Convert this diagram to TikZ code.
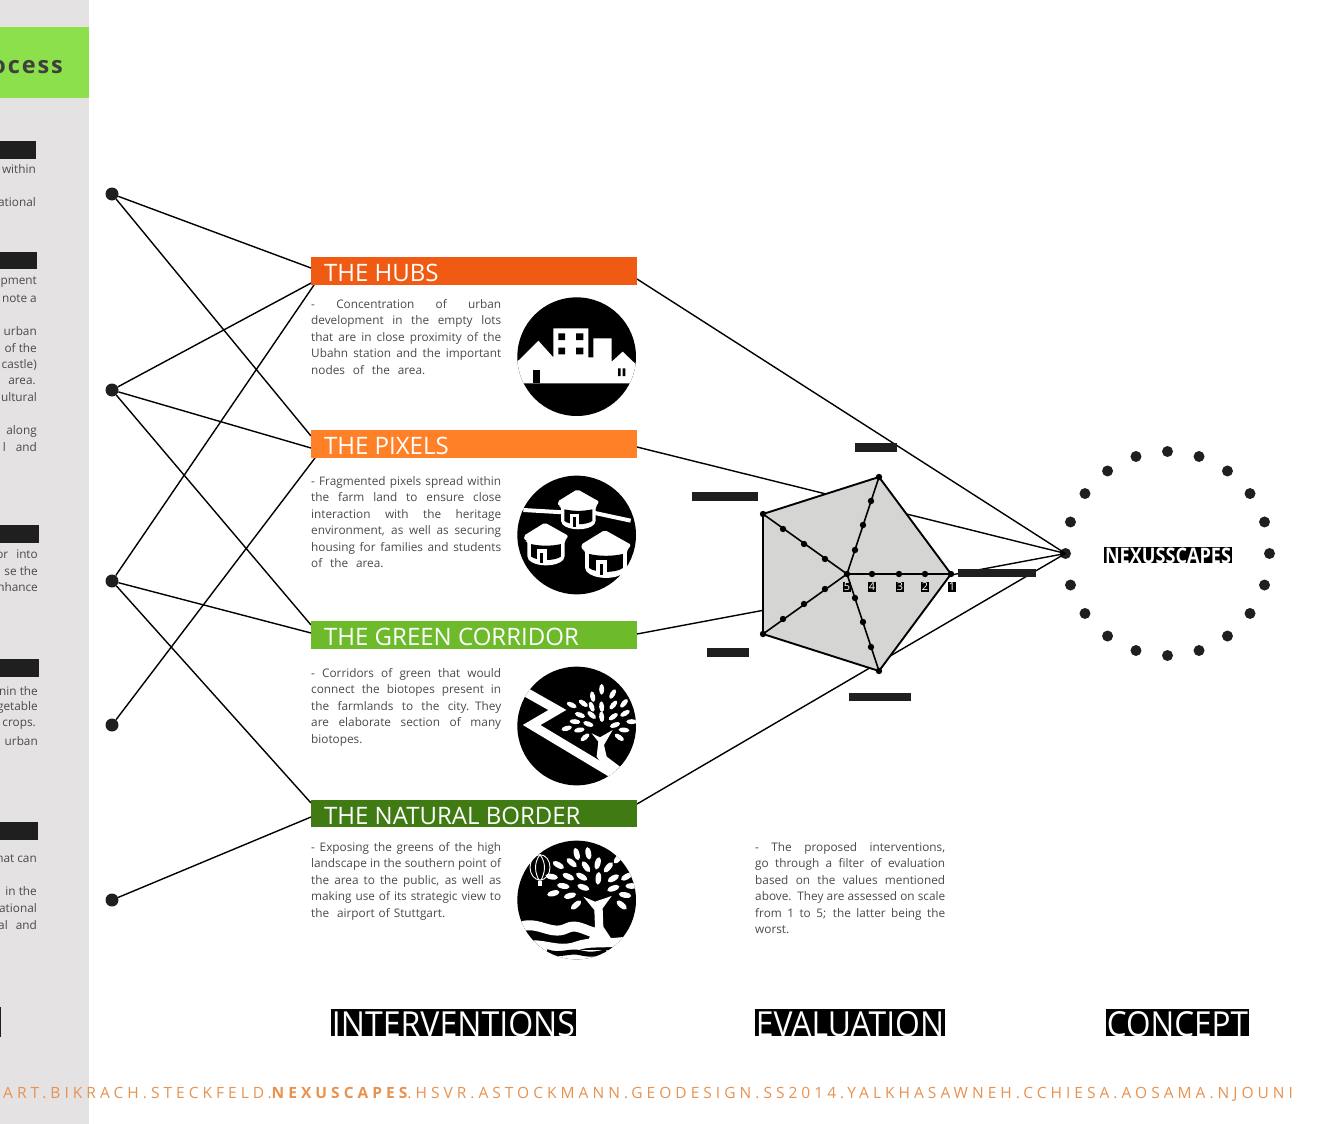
\documentclass[tikz,border=0pt]{standalone}
\usepackage{fontspec}
\usepackage{graphicx}
\setmainfont{Open Sans}
\newfontfamily\footfont[LetterSpace=26]{Open Sans}
\definecolor{sidegray}{HTML}{E4E2E2}
\definecolor{sidegreen}{HTML}{8BE04B}
\definecolor{inkdark}{HTML}{1F1F1F}
\definecolor{bodygray}{HTML}{4A4A4A}
\definecolor{hubsorange}{HTML}{F05A12}
\definecolor{pixorange}{HTML}{FF8026}
\definecolor{corrgreen}{HTML}{6DBA2B}
\definecolor{bordergreen}{HTML}{3F7A12}
\definecolor{footorange}{HTML}{E8924F}
\definecolor{pentfill}{HTML}{D5D5D3}
\newcommand{\jl}[1]{\noindent\makebox[190pt][s]{\spaceskip=0.26em plus 1fil minus 0.1em\relax #1}\par}
\newcommand{\lastl}[1]{\noindent\makebox[190pt][l]{#1}\par}
\newcommand{\leafw}[5]{\fill[white,rotate around={-#3:(#1,#2)}] (#1,#2) ellipse (#4 and #5);}
\newcommand{\hut}[3]{%
 \begin{scope}[shift={(#1,#2)},scale=#3]
  \fill[white,rounded corners=2pt] (-63,37) -- (-3,0) -- (63,37) -- (52,52) -- (52,100) .. controls (30,125) and (-30,125) .. (-52,100) -- (-52,52) -- (-58,52) -- cycle;
  \fill[black] (-42,60) .. controls (-15,66) and (15,66) .. (42,60) -- (42,95) .. controls (25,108) and (-25,108) .. (-42,95) -- cycle;
  \fill[white] (-26,74) -- (2,74) -- (2,112) -- (-26,112) -- cycle;
  \fill[black] (-16,84) -- (-8,84) -- (-8,112) -- (-16,112) -- cycle;
 \end{scope}}
\tikzset{
 dot/.style={circle,fill=inkdark,inner sep=0pt,minimum size=13pt},
 ringdot/.style={circle,fill=inkdark,inner sep=0pt,minimum size=11pt},
 axisdot/.style={circle,fill=black,inner sep=0pt,minimum size=6.4pt},
 link/.style={black,line width=1.4pt},
 titlebar/.style={inner sep=0pt,minimum height=28pt,minimum width=326pt,anchor=west},
 bartitle/.style={anchor=west,inner sep=0pt,text=white,font=\fontsize{24}{24}\selectfont},
 body/.style={anchor=north west,inner sep=0pt,text width=190pt,text=bodygray,font=\fontsize{11.8}{16.5}\selectfont},
 frag/.style={anchor=east,inner sep=0pt,yshift=-0.5pt,text=bodygray,font=\fontsize{11.8}{14}\selectfont},
 redact/.style={fill=inkdark,draw=none},
 numlab/.style={fill=black,text=white,inner sep=0.6pt,font=\fontsize{11}{11}\selectfont},
}
\begin{document}
\begin{tikzpicture}[x=1pt,y=-1pt]
\useasboundingbox (0,0) rectangle (1318,1124);
\fill[white] (0,0) rectangle (1318,1124);
% sidebar
\fill[sidegray] (0,0) rectangle (88.5,1124);
\fill[sidegreen] (0,27) rectangle (88.5,98);
\node[anchor=east,inner sep=0pt,text=bodygray!85!black,font=\fontsize{23.5}{24}\selectfont\bfseries\addfontfeature{LetterSpace=8}] (proc) at (63,67) {ocess};
\foreach \a/\b/\w in {141/159/36,252/269/37,525/543/39,659/677/39,822/840/38}{
  \fill[redact] (0,\a) rectangle (\w,\b);}
\fill[inkdark] (0,1007) rectangle (1.2,1037);
\node[frag] (s1) at (36,169) {within};
\node[frag] (s2) at (36,202) {ational};
\node[frag] (s3) at (37,282) {pment};
\node[frag] (s4) at (37,298) {note a};
\node[frag] (s5) at (37,331) {urban};
\node[frag] (s6) at (37,348) {of the};
\node[frag] (s7) at (37,364) {castle)};
\node[frag] (s8) at (36,381) {area.};
\node[frag] (s9) at (37,397) {ultural};
\node[frag] (s10) at (37,431) {along};
\node[frag] (s11) at (37,447) {l\hspace{10pt}and};
\node[frag] (s12) at (38,554) {or\hspace{8pt}into};
\node[frag] (s13) at (38,571) {se the};
\node[frag] (s14) at (38,587) {nhance};
\node[frag] (s15) at (38,691) {nin the};
\node[frag] (s16) at (38,707) {getable};
\node[frag] (s17) at (36,724) {crops.};
\node[frag] (s18) at (38,741) {urban};
\node[frag] (s19) at (37,858) {hat can};
\node[frag] (s20) at (37,891) {in the};
\node[frag] (s21) at (37,908) {ational};
\node[frag] (s22) at (37,925) {al\hspace{8pt}and};
% left dots
\node[dot] (d1) at (112,194) {};
\node[dot] (d2) at (112,390) {};
\node[dot] (d3) at (112,581) {};
\node[dot] (d4) at (112,725) {};
\node[dot] (d5) at (112,900) {};
% ring
\foreach \i in {0,...,19}{
  \node[ringdot] (r\i) at ({1167.5+102*cos(18*\i)},{553.5+102*sin(18*\i)}) {};}
% connector ends
\coordinate (h1) at (311,268); \coordinate (h2) at (313,282); \coordinate (h3) at (314,285);
\coordinate (p1) at (311,436); \coordinate (p2) at (311,448); \coordinate (p3) at (315,458);
\coordinate (g1) at (311,625); \coordinate (g2) at (311,633);
\coordinate (n1) at (311,803); \coordinate (n2) at (311,817);
\coordinate (hr) at (637,279); \coordinate (pr) at (637,447); \coordinate (gr) at (637,634); \coordinate (nr) at (637,804);
\draw[link] (d1)--(h1) (d1)--(p1) (d2)--(h2) (d2)--(p2) (d2)--(g1) (d3)--(h3) (d3)--(g2) (d3)--(n1) (d4)--(p3) (d5)--(n2);
\draw[link] (hr)--(r10.center) (pr)--(r10.center) (gr)--(r10.center) (nr)--(r10.center);
% title bars
\node[titlebar,fill=hubsorange] (hubs) at (311,271) {};
\node[titlebar,fill=pixorange] (pixels) at (311,444) {};
\node[titlebar,fill=corrgreen] (corr) at (311,635) {};
\node[titlebar,fill=bordergreen,minimum height=27pt] (border) at (311,813.5) {};
\node[bartitle] (t1) at (324,273) {THE HUBS};
\node[bartitle] (t2) at (324,446) {THE PIXELS};
\node[bartitle] (t3) at (324,637) {THE GREEN CORRIDOR};
\node[bartitle] (t4) at (324,816) {THE NATURAL BORDER};
% body text
\node[body] (b1) at (311,299) {\jl{- Concentration of urban}\jl{development in the empty lots}\jl{that are in close proximity of the}\jl{Ubahn station and the important}\lastl{nodes\ \ of\ \ the\ \ area.}};
\node[body] (b2) at (311,476) {\jl{- Fragmented pixels spread within}\jl{the farm land to ensure close}\jl{interaction with the heritage}\jl{environment, as well as securing}\jl{housing for families and students}\lastl{of\ \ the\ \ area.}};
\node[body] (b3) at (311,668) {\jl{- Corridors of green that would}\jl{connect the biotopes present in}\jl{the farmlands to the city. They}\jl{are elaborate section of many}\lastl{biotopes.}};
\node[body] (b4) at (311,842) {\jl{- Exposing the greens of the high}\jl{landscape in the southern point of}\jl{the area to the public, as well as}\jl{making use of its strategic view to}\lastl{the\ \ airport of Stuttgart.}};
\node[body] (b5) at (755,842) {\jl{- The proposed interventions,}\jl{go through a filter of evaluation}\jl{based on the values mentioned}\jl{above. They are assessed on scale}\jl{from 1 to 5; the latter being the}\lastl{worst.}};
% icon hubs
\begin{scope}[shift={(500,280)},x=0.33333pt,y=-0.33333pt]
 \fill[black] (230,230) circle (178);
 \begin{scope}
  \clip (230,230) circle (178);
  \fill[white] (40,250) -- (57,240) -- (115,182) -- (160,232) -- (160,145) -- (265,145) -- (265,232) -- (280,232) -- (280,175) -- (335,175) -- (335,245) -- (368,215) -- (410,255) -- (410,310) -- (40,310) -- cycle;
 \end{scope}
 \fill[black] (100,270) rectangle (120,310);
 \fill[black] (175,160) rectangle (195,180) (228,160) rectangle (250,180) (175,203) rectangle (195,223) (228,203) rectangle (250,223) (354,265) rectangle (362,288) (368,265) rectangle (376,288);
\end{scope}
% icon pixels
\begin{scope}[shift={(500,280)},x=0.33333pt,y=-0.33333pt]
 \fill[black] (230,765) circle (178);
 \draw[white,line width=4pt] (70,690) -- (190,697);
 \draw[white,line width=4pt] (280,698) -- (392,722);
 \hut{235}{628}{1}
 \hut{138}{728}{1.07}
 \hut{318}{750}{1.2}
\end{scope}
% icon corridor
\begin{scope}[shift={(500,650)},x=0.33333pt,y=-0.33333pt]
 \fill[black] (230,228) circle (178);
 \begin{scope}
  \clip (230,228) circle (178);
  \draw[white,line width=9pt,miter limit=10] (75,125) -- (172,180) -- (95,225) -- (345,375);
  \fill[white] (275,250) -- (300,262) -- (338,240) -- (312,285) -- (320,320) -- (360,350) -- (330,375) -- (290,320) -- (295,275) -- cycle;
  \foreach \x/\y/\a in {278/140/80,305/118/90,338/132/-60,250/160/35,275/170/70,305/170/85,340/165/-50,372/160/-50,215/165/25,240/195/20,275/195/40,305/200/85,340/200/-35,375/190/-30,225/215/5,265/222/20,345/225/-20,395/215/0,200/235/-15,238/240/-10,255/262/-40,358/262/35,372/240/5}{
   \leafw{\x}{\y}{\a}{16}{7.5}}
 \end{scope}
\end{scope}
% icon border
\begin{scope}[shift={(500,650)},x=0.33333pt,y=-0.33333pt]
 \fill[black] (230,750) circle (178);
 \begin{scope}
  \clip (230,750) circle (178);
  \fill[white] (40,900) rectangle (420,940);
  \draw[white,line width=10pt] (50,835) .. controls (110,805) and (150,860) .. (200,835) .. controls (230,820) and (250,840) .. (290,850);
  \draw[white,line width=9pt] (60,890) .. controls (120,870) and (170,910) .. (230,888) .. controls (270,872) and (320,885) .. (400,870);
  \draw[black,line width=5pt] (140,905) .. controls (180,920) and (210,900) .. (240,908) .. controls (270,916) and (290,912) .. (320,905);
  \fill[white] (250,740) -- (285,755) -- (335,738) -- (308,775) -- (310,830) -- (338,872) -- (262,875) -- (285,830) -- (283,780) -- cycle;
  \foreach \x/\y/\a in {230/612/75,265/610/80,258/650/55,293/640/-75,325/652/-50,215/638/40,175/645/30,205/680/25,245/680/30,295/685/-85,340/685/-30,380/680/-30,155/680/10,190/708/10,250/712/20,340/715/-20,375/735/10,160/730/-15,210/737/-15,228/765/-40,365/765/40,395/708/0,355/625/-50}{
   \leafw{\x}{\y}{\a}{19}{8.5}}
 \end{scope}
 \draw[white,line width=0.9pt] (120,652) ellipse (30 and 38);
 \draw[white,line width=0.9pt] (120,614) .. controls (100,640) and (105,670) .. (118,692);
 \draw[white,line width=0.9pt] (120,614) .. controls (140,640) and (135,670) .. (122,692);
 \fill[white] (113,693) rectangle (127,707);
\end{scope}
% pentagon
\coordinate (v1) at (951,574);
\coordinate (v2) at (879,477);
\coordinate (v3) at (763,514);
\coordinate (v4) at (763,634);
\coordinate (v5) at (879,671);
\coordinate (cc) at (847,574);
\filldraw[fill=pentfill,draw=black,line width=1.9pt,line join=round] (v1) -- (v2) -- (v3) -- (v4) -- (v5) -- cycle;
\draw[black,line width=1.6pt] (cc)--(v1) (cc)--(v2) (cc)--(v3) (cc)--(v4) (cc)--(v5);
\foreach \n/\x/\y in {c0/847/574,a1/872/574,a2/899/574,a3/925/574,a4/951/574,
  b1/855/550,b2/863/525,b3/871/501,b4/879/477,
  e1/825/559,e2/804/544,e3/783/529,e4/763/514,
  f1/825/589,f2/804/604,f3/783/619,f4/763/634,
  k1/855/598,k2/863/622,k3/871/647,k4/879/671}{
  \node[axisdot] (\n) at (\x,\y) {};}
\node[numlab] (n5) at (847,587) {5};
\node[numlab] (n4) at (872,587) {4};
\node[numlab] (n3) at (900,587) {3};
\node[numlab] (n2x) at (925,587) {2};
\node[numlab] (n1x) at (952,587) {1};
% redaction bars
\fill[redact] (855,443) rectangle (897,452);
\fill[redact] (692,492) rectangle (758,501);
\fill[redact] (707,648) rectangle (749,657);
\fill[redact] (849,693) rectangle (911,701);
\fill[redact] (958,568.5) rectangle (1036,577);
% caption boxes
\fill[black] (1104,547) rectangle (1232,563);
\node[inner sep=0pt,text=white] (nx) at (1168,555.5) {\resizebox{126pt}{15.5pt}{\bfseries NEXUSSCAPES}};
\fill[black] (331,1009) rectangle (576,1036);
\node[inner sep=0pt,text=white] (c1) at (453.5,1024) {\resizebox{243pt}{25pt}{INTERVENTIONS}};
\fill[black] (755,1009) rectangle (945,1036);
\node[inner sep=0pt,text=white] (c2) at (850,1024) {\resizebox{188pt}{25pt}{EVALUATION}};
\fill[black] (1106,1009) rectangle (1249,1036);
\node[inner sep=0pt,text=white] (c3) at (1177.5,1024) {\resizebox{141pt}{25pt}{CONCEPT}};
% footer
\node[anchor=west,inner sep=0pt,text=footorange,font=\fontsize{15.5}{16}\footfont] (foot) at (3,1094) {ART.BIKRACH.STECKFELD.{\bfseries NEXUSCAPES}.HSVR.ASTOCKMANN.GEODESIGN.SS2014.YALKHASAWNEH.CCHIESA.AOSAMA.NJOUNI};
\end{tikzpicture}
\end{document}
